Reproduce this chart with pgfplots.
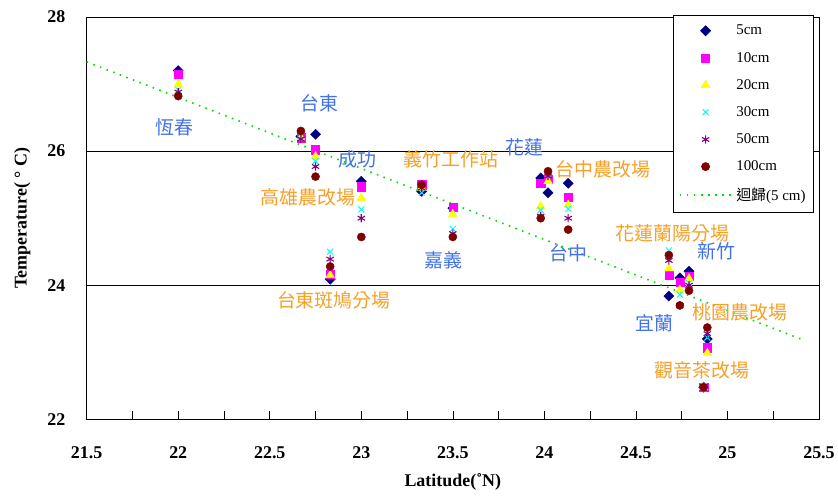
\documentclass[border=0pt]{standalone}
\usepackage{fontspec}
\setmainfont{Liberation Serif}
\newfontfamily\cjk{Noto Sans CJK TC}
\usepackage{pgfplots}
\pgfplotsset{compat=1.18}

\definecolor{c5}{RGB}{0,0,128}
\definecolor{c10}{RGB}{255,0,255}
\definecolor{c20}{RGB}{255,255,0}
\definecolor{c30}{RGB}{0,255,255}
\definecolor{c50}{RGB}{128,0,128}
\definecolor{c100}{RGB}{128,0,0}
\definecolor{regline}{RGB}{0,225,0}
\definecolor{labblue}{RGB}{66,114,230}
\definecolor{laborange}{RGB}{245,160,40}

% soil temperature by depth at each station (latitude, temperature)
\pgfplotstableread{
lat   t5     t10    t20    t30    t50    t100
22.00 27.20  27.15  27.00  26.91  26.88  26.82
22.67 26.22  26.20  26.20  26.22  26.18  26.30
22.75 26.25  26.02  25.92  25.85  25.77  25.62
22.83 24.09  24.17  24.15  24.50  24.39  24.28
23.00 25.55  25.47  25.30  25.13  25.00  24.72
23.33 25.40  25.50  25.45  25.38  25.45  25.50
23.50 25.15  25.16  25.06  24.84  24.77  24.72
23.98 25.60  25.52  25.18  25.12  25.03  25.00
24.02 25.38  25.58  25.55  25.65  25.63  25.70
24.13 25.52  25.31  25.20  25.14  25.00  24.83
24.68 23.84  24.15  24.25  24.52  24.37  24.45
24.74 24.11  24.04  23.93  23.86  23.70  23.70
24.79 24.21  24.13  24.10  24.03  24.00  23.92
24.89 23.20  23.07  22.99  23.22  23.28  23.37
24.87 22.48  22.48  22.48  22.50  22.49  22.48
}\soiltemp

\pgfplotsset{
  depth/.style={only marks,
    legend image code/.code={\draw[##1] plot coordinates {(26pt,0pt)};}},
  fitline/.style={
    legend image code/.code={\draw[##1] (0pt,0pt) -- (54pt,0pt);}},
}

\begin{document}
\begin{tikzpicture}
\begin{axis}[
  scale only axis,
  width=735pt, height=404pt,
  xmin=21.5, xmax=25.5, ymin=22, ymax=28,
  xtick={21.5,22,22.5,23,23.5,24,24.5,25,25.5},
  xticklabels={21.5,22,22.5,23,23.5,24,24.5,25,25.5},
  minor x tick num=1,
  ytick={22,24,26,28},
  tick pos=left,
  tick align=inside,
  major tick length=8pt, minor tick length=8pt,
  ymajorgrids,
  major grid style={black, line width=0.8pt},
  axis line style={black, line width=0.8pt},
  every tick/.style={black, line width=0.6pt},
  /pgf/number format/assume math mode=true,
  ticklabel style={font=\fontsize{18}{18}\selectfont\bfseries},
  xticklabel style={yshift=-24pt},
  yticklabel style={xshift=-18pt},
  xlabel={Latitude(˚N)},
  ylabel={Temperature( ° C)},
  label style={font=\fontsize{18}{18}\selectfont\bfseries},
  xlabel shift=8pt,
  ylabel shift=10pt,
  legend style={
    at={(rel axis cs:0.993,1.005)}, anchor=north east,
    draw=black, line width=0.6pt,
    font=\fontsize{15}{17}\selectfont,
    row sep=11.8pt, inner xsep=6pt, inner ysep=8pt,
  },
  legend cell align=left,
  clip=false,
]
\addplot[depth, mark=square*, mark size=3.6pt, mark options={rotate=45}, color=c5] table[x=lat, y=t5] {\soiltemp};
\addlegendentry{5cm}
\addplot[depth, mark=square*, mark size=4.1pt, color=c10] table[x=lat, y=t10] {\soiltemp};
\addlegendentry{10cm}
\addplot[depth, mark=triangle*, mark size=5pt, color=c20] table[x=lat, y=t20] {\soiltemp};
\addlegendentry{20cm}
\addplot[depth, mark=x, mark size=4.2pt, line width=1pt, color=c30] table[x=lat, y=t30] {\soiltemp};
\addlegendentry{30cm}
\addplot[depth, mark=asterisk, mark size=4.2pt, line width=1.1pt, color=c50] table[x=lat, y=t50] {\soiltemp};
\addlegendentry{50cm}
\addplot[depth, mark=*, mark size=4.1pt, color=c100] table[x=lat, y=t100] {\soiltemp};
\addlegendentry{100cm}
% linear fit of the 5 cm series
\addplot[fitline, regline, line width=1.6pt, dash pattern=on 1.6pt off 5.5pt]
  coordinates {(21.5,27.33) (25.4,23.2)};
\addlegendentry{{\cjk 迴歸}(5 cm)}

% station names
\begin{scope}[every node/.style={font=\cjk\fontsize{19}{19}\selectfont}]
\node[text=labblue] at (axis cs:21.98,26.35) {恆春};
\node[text=labblue] at (axis cs:22.77,26.72) {台東};
\node[text=labblue] at (axis cs:22.98,25.88) {成功};
\node[text=laborange] at (axis cs:23.49,25.88) {義竹工作站};
\node[text=laborange] at (axis cs:22.71,25.31) {高雄農改場};
\node[text=laborange] at (axis cs:22.85,23.77) {台東斑鳩分場};
\node[text=labblue] at (axis cs:23.45,24.37) {嘉義};
\node[text=labblue] at (axis cs:23.89,26.06) {花蓮};
\node[text=laborange] at (axis cs:24.32,25.73) {台中農改場};
\node[text=labblue] at (axis cs:24.13,24.48) {台中};
\node[text=laborange] at (axis cs:24.70,24.78) {花蓮蘭陽分場};
\node[text=labblue] at (axis cs:24.94,24.51) {新竹};
\node[text=labblue] at (axis cs:24.60,23.43) {宜蘭};
\node[text=laborange] at (axis cs:25.07,23.60) {桃園農改場};
\node[text=laborange] at (axis cs:24.86,22.73) {觀音茶改場};
\end{scope}
% margins round the frame
\path (rel axis cs:0,1) ++(-87pt,17pt);
\path (rel axis cs:1,0) ++(16pt,-76pt);
\end{axis}
\end{tikzpicture}
\end{document}
